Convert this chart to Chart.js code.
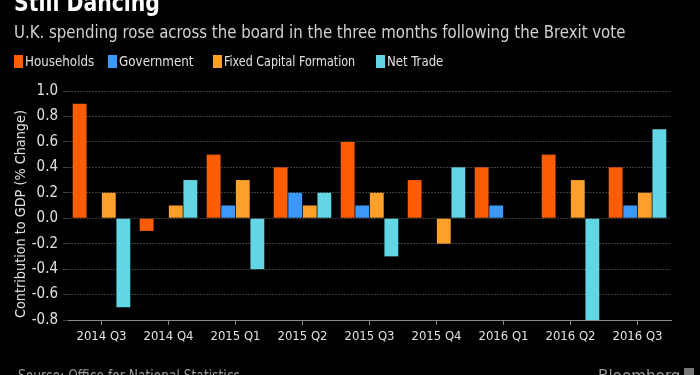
<!DOCTYPE html>
<html>
<head>
<meta charset="utf-8">
<script src="https://cdn.jsdelivr.net/npm/chart.js@4/dist/chart.umd.min.js"></script>
<style>
  html, body { margin: 0; padding: 0; background: #000; }
  body { width: 700px; height: 375px; position: relative; overflow: hidden;
         font-family: 'DejaVu Sans Condensed', 'DejaVu Sans', sans-serif; }
  #wrap { position: absolute; left: 0; top: 0; width: 700px; height: 375px; }
  .fit { position: absolute; white-space: nowrap; transform-origin: 0 0; }
  .title { left: 14px; top: -12px; color: #fff; font-size: 25px; font-weight: bold; }
  .sub { left: 14px; top: 21px; color: #d2d2d2; font-size: 18px; }
  .leg-box { position: absolute; top: 55px; width: 9px; height: 13px; }
  .leg-txt { top: 53px; color: #e0e0e0; font-size: 14px; }
  .ytitle { left: 20px; top: 214px; color: #e0e0e0; font-size: 14px; transform-origin: 0 0; }
  .foot { top: 367px; color: #9a9a9a; font-size: 15px; }
</style>
</head>
<body>
<div id="wrap"><canvas id="gdp" width="700" height="375"></canvas></div>
<div class="fit title" data-w="146">Still Dancing</div>
<div class="fit sub" data-w="611">U.K. spending rose across the board in the three months following the Brexit vote</div>
<div id="legend"></div>
<div class="fit ytitle" id="ytitle">Contribution to GDP (% Change)</div>
<div class="fit foot" style="left:18px" data-w="222">Source: Office for National Statistics</div>
<div class="fit foot" style="left:598px" data-w="82">Bloomberg</div>
<div style="position:absolute;left:684px;top:368px;width:10px;height:10px;background:#777"></div>
<script>
const quarters = ['2014 Q3','2014 Q4','2015 Q1','2015 Q2','2015 Q3','2015 Q4','2016 Q1','2016 Q2','2016 Q3']
const households = [0.9, -0.1, 0.5, 0.4, 0.6, 0.3, 0.4, 0.5, 0.4]
const government = [0, 0, 0.1, 0.2, 0.1, 0, 0.1, 0, 0.1]
const fixedCapital = [0.2, 0.1, 0.3, 0.1, 0.2, -0.2, 0, 0.3, 0.2]
const netTrade = [-0.7, 0.3, -0.4, 0.2, -0.3, 0.4, 0, -0.8, 0.7]
const seriesNames = ['Households', 'Government', 'Fixed Capital Formation', 'Net Trade']
const seriesColors = ['#fe5c05', '#3d98fb', '#fca02b', '#63d6e6']

const font = "'DejaVu Sans Condensed', 'DejaVu Sans', sans-serif"

// html legend, placed like the original
const legendLeft = [14, 108, 213, 376]
const legendTextW = [69, 75, 131, 56]
const legend = document.getElementById('legend')
seriesNames.forEach((name, i) => {
  const b = document.createElement('div')
  b.className = 'leg-box'
  b.style.left = legendLeft[i] + 'px'
  b.style.background = seriesColors[i]
  legend.appendChild(b)
  const t = document.createElement('div')
  t.className = 'fit leg-txt'
  t.style.left = (legendLeft[i] + 11) + 'px'
  t.dataset.w = legendTextW[i]
  t.textContent = name
  legend.appendChild(t)
})

// squeeze text to the narrow widths of the original font
document.querySelectorAll('.fit[data-w]').forEach(el => {
  el.style.transform = 'scaleX(' + (el.dataset.w / el.offsetWidth) + ')'
})
const yt = document.getElementById('ytitle')
const ytw = yt.offsetWidth, yth = yt.offsetHeight
const ys = 208 / ytw
yt.style.transform = 'translate(' + (-yth / 2) + 'px,' + (ytw * ys / 2) + 'px) rotate(-90deg) scaleX(' + ys + ')'

const allSeries = [households, government, fixedCapital, netTrade]

new Chart(document.getElementById('gdp'), {
  type: 'bar',
  data: {
    labels: quarters,
    datasets: allSeries.map((d, i) => ({
      label: seriesNames[i],
      data: d,
      backgroundColor: seriesColors[i],
      borderWidth: 0,
      categoryPercentage: 0.87,
      barPercentage: 0.95
    }))
  },
  options: {
    responsive: false,
    animation: false,
    layout: { padding: { top: 91, right: 29, left: 0, bottom: 0 } },
    plugins: { legend: { display: false }, tooltip: { enabled: false } },
    scales: {
      x: {
        afterFit: s => { s.height = 55 },
        grid: { drawOnChartArea: false, offset: false, tickLength: 5, color: '#8a8a8a' },
        border: { color: '#8a8a8a' },
        ticks: { color: '#e0e0e0', font: { family: font, size: 13 }, padding: 4 }
      },
      y: {
        min: -0.8,
        max: 1.0,
        afterFit: s => { s.width = 68 },
        border: { display: false, dash: [2, 1] },
        grid: { color: '#3c3c3c', tickLength: 5, tickColor: '#3c3c3c' },
        ticks: {
          stepSize: 0.2,
          color: '#e0e0e0',
          font: { family: font, size: 15 },
          padding: 5,
          callback: v => v.toFixed(1)
        }
      }
    }
  }
});
</script>
</body>
</html>
